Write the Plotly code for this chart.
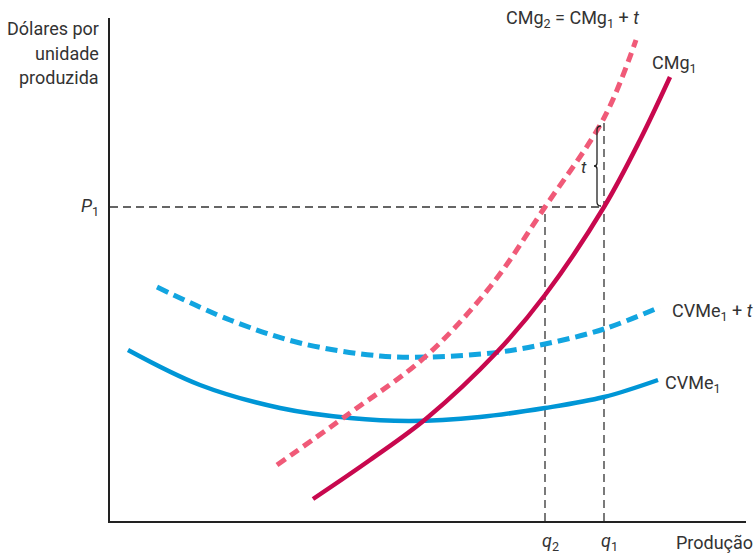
import plotly.graph_objects as go

# Chart units: quantity (x) and dollars per unit (y), arbitrary scale
cmg1_x = [203, 260, 317, 387, 435, 494, 530, 560]
cmg1_y = [22, 61, 103, 169, 226, 314, 381, 444]

cmg2_x = [167, 240, 315, 380, 435, 494, 526]
cmg2_y = [56, 108, 164, 234, 314, 403, 481]

cvme1_x = [18, 90, 170, 240, 300, 370, 435, 494, 548]
cvme1_y = [171, 136, 113, 103, 100, 104, 113, 124, 141]

cvme1t_x = [47, 120, 190, 270, 320, 390, 435, 494, 550]
cvme1t_y = [234, 201, 178, 165, 164, 169, 177, 192, 214]

P1 = 314
q2 = 435
q1 = 494
cmg2_at_q1 = 403

XMAX, YMAX = 636, 503

FONT = "Roboto, Liberation Sans, sans-serif"
TXT = "#333333"

fig = go.Figure()

# guide lines
guide = dict(color="#333", width=1.3, dash="8px,5px")
fig.add_trace(go.Scatter(x=[0, q1], y=[P1, P1], mode="lines", line=guide, hoverinfo="skip"))
fig.add_trace(go.Scatter(x=[q2, q2], y=[0, P1], mode="lines", line=guide, hoverinfo="skip"))
fig.add_trace(go.Scatter(x=[q1, q1], y=[0, cmg2_at_q1], mode="lines", line=guide, hoverinfo="skip"))

fig.add_trace(go.Scatter(x=cvme1_x, y=cvme1_y, mode="lines", line_shape="spline",
                         line=dict(color="#0096D6", width=4.5)))
fig.add_trace(go.Scatter(x=cvme1t_x, y=cvme1t_y, mode="lines", line_shape="spline",
                         line=dict(color="#12A5E0", width=5, dash="12px,6px")))
fig.add_trace(go.Scatter(x=cmg2_x, y=cmg2_y, mode="lines", line_shape="spline",
                         line=dict(color="#F05A78", width=5, dash="10px,6px")))
fig.add_trace(go.Scatter(x=cmg1_x, y=cmg1_y, mode="lines", line_shape="spline",
                         line=dict(color="#C8084E", width=4.5)))

# brace for t
bx = q1 - 7
top = cmg2_at_q1 - 8
bot = P1 + 1
mid = (top + bot) / 2
brace = (f"M {bx+4},{top} Q {bx},{top} {bx},{top-4} L {bx},{mid+3} Q {bx},{mid} {bx-3},{mid} "
         f"Q {bx},{mid} {bx},{mid-3} L {bx},{bot+4} Q {bx},{bot} {bx+4},{bot}")
fig.add_shape(type="path", path=brace, xref="x", yref="y",
              line=dict(color="#222", width=1.3))

def ann(x, y, text, xanchor="left", yanchor="middle", size=18):
    fig.add_annotation(x=x / XMAX, y=y / YMAX, xref="paper", yref="paper", text=text,
                       showarrow=False, xanchor=xanchor, yanchor=yanchor,
                       font=dict(family=FONT, size=size, color=TXT),
                       align="right" if xanchor == "right" else "left")

ann(-9, 492, "Dólares por", "right")
ann(-9, 468, "unidade", "right")
ann(-9, 444, "produzida", "right")
ann(-9, P1, "<i>P</i><sub>1</sub>", "right")
ann(q2 + 5, -21, "<i>q</i><sub>2</sub>", "center")
ann(q1 + 5, -21, "<i>q</i><sub>1</sub>", "center")
ann(645, -21, "Produção", "right")
ann(394, 502, "CMg<sub>2</sub> = CMg<sub>1</sub> + <i>t</i>", "left")
ann(540, 457, "CMg<sub>1</sub>", "left")
ann(645, 209, "CVMe<sub>1</sub> + <i>t</i>", "right")
ann(553, 137, "CVMe<sub>1</sub>", "left")
ann(bx - 8, mid - 1, "<i>t</i>", "right", size=17)

fig.update_layout(
    width=755, height=554,
    margin=dict(l=110, r=9, t=18, b=33),
    plot_bgcolor="white", paper_bgcolor="white",
    showlegend=False,
    xaxis=dict(range=[0, XMAX], showgrid=False, zeroline=False, showticklabels=False,
               showline=True, linecolor="#222", linewidth=1.5, ticks=""),
    yaxis=dict(range=[0, YMAX], showgrid=False, zeroline=False, showticklabels=False,
               showline=True, linecolor="#222", linewidth=1.5, ticks=""),
)

fig.write_html("out.html", config={"displayModeBar": False},
               post_script="document.body.style.margin='0';")
